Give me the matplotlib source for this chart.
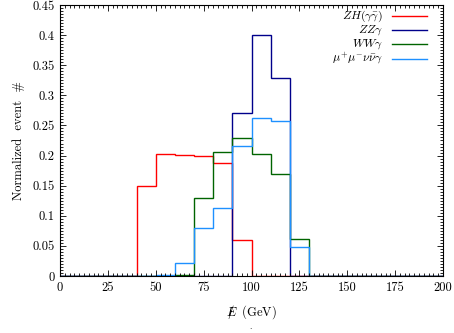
import numpy as np
import matplotlib
matplotlib.use("Agg")
import matplotlib.pyplot as plt
from matplotlib.ticker import MultipleLocator
from matplotlib.lines import Line2D

plt.rcParams['font.family'] = ['cmr10', 'DejaVu Serif']
plt.rcParams['mathtext.fontset'] = 'cm'
plt.rcParams['axes.unicode_minus'] = False

edges = np.arange(0, 210, 10)
zh = [0, 0, 0, 0, 0.150, 0.203, 0.201, 0.199, 0.188, 0.059, 0, 0, 0, 0, 0, 0, 0, 0, 0, 0]
zz = [0, 0, 0, 0, 0, 0, 0, 0, 0, 0.270, 0.401, 0.329, 0, 0, 0, 0, 0, 0, 0, 0]
ww = [0, 0, 0, 0, 0, 0, 0.002, 0.129, 0.206, 0.229, 0.203, 0.169, 0.061, 0, 0, 0, 0, 0, 0, 0]
mm = [0, 0, 0, 0, 0, 0.002, 0.022, 0.080, 0.113, 0.216, 0.263, 0.258, 0.048, 0, 0, 0, 0, 0, 0, 0]

labels = [r'$ZH(\gamma\bar{\gamma})$', r'$ZZ\gamma$', r'$WW\gamma$', r'$\mu^{+}\mu^{-}\nu\bar{\nu}\gamma$']
colors = ['#ff0000', '#00008b', '#006400', '#1e90ff']
series = [zh, zz, ww, mm]

xticks = [0, 25, 50, 75, 100, 125, 150, 175, 200]
yticks = [0, 0.05, 0.1, 0.15, 0.2, 0.25, 0.3, 0.35, 0.4, 0.45]
yticklabels = ['0', '0.05', '0.1', '0.15', '0.2', '0.25', '0.3', '0.35', '0.4', '0.45']

W, H = 454, 333
fig = plt.figure(figsize=(W/100, H/100), dpi=100)
ax = fig.add_axes([60/W, 57/H, 383/W, 271/H])

for vals, c, lab in zip(series, colors, labels):
    ax.stairs(vals, edges, color=c, lw=1.0, label=lab, baseline=None)

ax.set_xlim(0, 200)
ax.set_ylim(0, 0.45)
ax.set_xticks(xticks)
ax.set_xticklabels([str(t) for t in xticks])
ax.set_yticks(yticks)
ax.set_yticklabels(yticklabels)
ax.xaxis.set_minor_locator(MultipleLocator(2.5))
ax.yaxis.set_minor_locator(MultipleLocator(0.005))
ax.tick_params(which='both', direction='in', top=True, right=True, labelsize=9, width=0.6)
ax.tick_params(which='major', length=4, pad=4)
ax.tick_params(which='minor', length=2)
for s in ax.spines.values():
    s.set_linewidth(0.8)

ax.set_xlabel(r'$E\!\!\!\!/\ \ $(GeV)', fontsize=9, labelpad=7)
ax.set_ylabel('Normalized  event  #', fontsize=9, labelpad=5)

# legend (gnuplot style: right-aligned text, sample line on right)
for i, (c, lab) in enumerate(zip(colors, labels)):
    ypix = 16 + 14.2 * i
    yf = 1 - ypix / H
    fig.text(383/W, yf, lab, fontsize=8.6, ha='right', va='center')
    fig.add_artist(Line2D([392/W, 427/W], [yf, yf], color=c, lw=1.0,
                          transform=fig.transFigure))

fig.text(250/W, 1 - 327/H, '.', fontsize=6, ha='center', va='center')

fig.savefig('out.png', dpi=100)
